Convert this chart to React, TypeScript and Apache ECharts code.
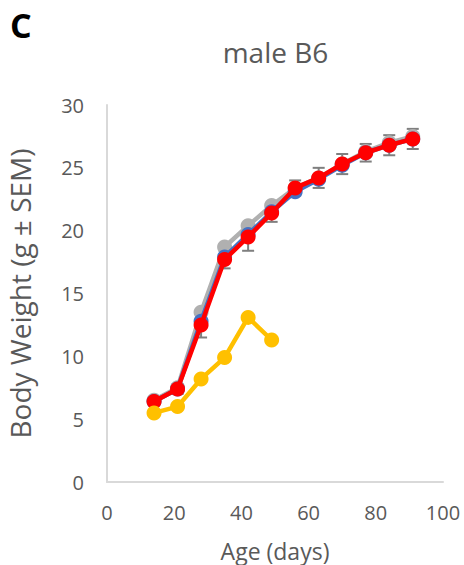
import React, { useEffect, useRef } from "react";
import * as echarts from "echarts";

const ages = [14, 21, 28, 35, 42, 49, 56, 63, 70, 77, 84, 91];
const grayValues = [6.5, 7.5, 13.5, 18.7, 20.4, 22.0, 23.4, 24.2, 25.3, 26.3, 27.0, 27.5];
const blueValues = [6.4, 7.4, 12.8, 17.9, 19.7, 21.5, 23.1, 24.1, 25.2, 26.2, 26.8, 27.3];
const redValues = [6.4, 7.4, 12.5, 17.7, 19.5, 21.4, 23.4, 24.2, 25.3, 26.2, 26.8, 27.3];
const semValues = [0.3, 0.4, 1.0, 0.7, 1.1, 0.7, 0.6, 0.8, 0.8, 0.7, 0.8, 0.8];
const yellowAges = [14, 21, 28, 35, 42, 49];
const yellowValues = [5.5, 6.0, 8.2, 9.9, 13.1, 11.3];
const xTicks = [0, 20, 40, 60, 80, 100];
const yTicks = [0, 5, 10, 15, 20, 25, 30];

const FONT = "'Open Sans', sans-serif";
const TXT = "#595959";

export default function App() {
  const ref = useRef<HTMLDivElement>(null);
  useEffect(() => {
    if (!ref.current) return;
    const chart = echarts.init(ref.current, undefined, { renderer: "svg" });
    const lineSeries = (name: string, xs: number[], ys: number[], color: string, z: number) => ({
      name,
      type: "line",
      data: xs.map((x, i) => [x, ys[i]]),
      symbol: "circle",
      symbolSize: 15,
      lineStyle: { color, width: 4.5 },
      itemStyle: { color },
      z,
    });
    chart.setOption({
      animation: false,
      graphic: [
        {
          type: "text",
          x: 275.5,
          y: 52,
          style: {
            text: "male B6",
            fontFamily: FONT,
            fontSize: 28,
            fill: TXT,
            align: "center",
            verticalAlign: "middle",
          },
        },
        {
          type: "text",
          x: 10,
          y: 25,
          style: {
            text: "C",
            fontFamily: FONT,
            fontSize: 34,
            fontWeight: "bold",
            fill: "#000",
            align: "left",
            verticalAlign: "middle",
          },
        },
      ],
      grid: { left: 107, right: 21, top: 105, bottom: 83, outerBoundsMode: "none", containLabel: false },
      xAxis: {
        type: "value",
        min: xTicks[0],
        max: xTicks[xTicks.length - 1],
        interval: 20,
        name: "Age (days)",
        nameLocation: "middle",
        nameGap: 57,
        nameTextStyle: { fontFamily: FONT, fontSize: 23, color: TXT },
        axisLine: { lineStyle: { color: "#d9d9d9", width: 2 } },
        axisTick: { show: false },
        splitLine: { show: false },
        axisLabel: { fontFamily: FONT, fontSize: 20, color: TXT, margin: 20 },
      },
      yAxis: {
        type: "value",
        min: yTicks[0],
        max: yTicks[yTicks.length - 1],
        interval: 5,
        name: "Body Weight (g ± SEM)",
        nameLocation: "middle",
        nameGap: 73,
        nameTextStyle: { fontFamily: FONT, fontSize: 28, color: TXT },
        axisLine: { show: true, lineStyle: { color: "#d9d9d9", width: 2 } },
        axisTick: { show: false },
        splitLine: { show: false },
        axisLabel: { fontFamily: FONT, fontSize: 20, color: TXT, margin: 23 },
      },
      series: [
        {
          type: "custom",
          data: ages.map((x, i) => [x, redValues[i] - semValues[i], redValues[i] + semValues[i]]),
          z: 1,
          renderItem: (params: any, api: any) => {
            const x = api.value(0);
            const lo = api.coord([x, api.value(1)]);
            const hi = api.coord([x, api.value(2)]);
            const w = 6;
            const style = { stroke: "#7f7f7f", lineWidth: 2 };
            return {
              type: "group",
              children: [
                { type: "line", shape: { x1: lo[0], y1: lo[1], x2: hi[0], y2: hi[1] }, style },
                { type: "line", shape: { x1: lo[0] - w, y1: lo[1], x2: lo[0] + w, y2: lo[1] }, style },
                { type: "line", shape: { x1: hi[0] - w, y1: hi[1], x2: hi[0] + w, y2: hi[1] }, style },
              ],
            };
          },
        },
        lineSeries("gray", ages, grayValues, "#b0b0b0", 2),
        lineSeries("blue", ages, blueValues, "#4472c4", 3),
        lineSeries("red", ages, redValues, "#ff0000", 4),
        lineSeries("yellow", yellowAges, yellowValues, "#ffc000", 5),
      ],
    });
    return () => chart.dispose();
  }, []);
  return (
    <div
      ref={ref}
      style={{ position: "fixed", left: 0, top: 0, width: 464, height: 565, background: "#fff" }}
    />
  );
}
